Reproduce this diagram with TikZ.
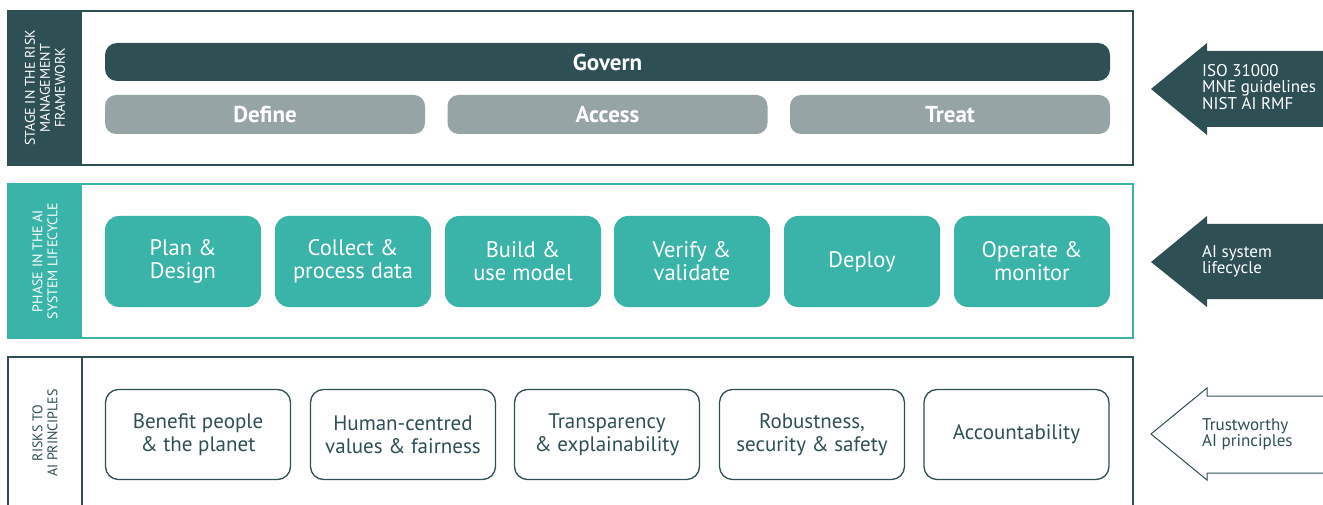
\documentclass[tikz,border=0pt]{standalone}
\usepackage{fontspec}
\setmainfont{PT Sans}
\definecolor{darkslate}{HTML}{2E4F54}
\definecolor{aiteal}{HTML}{3AB3A8}
\definecolor{stagegray}{HTML}{97A4A6}
\begin{document}
\begin{tikzpicture}[x=1pt,y=-1pt,
	govbar/.style={fill=darkslate,rounded corners=12pt,minimum width=1005pt,minimum height=38pt,inner sep=0pt,text=white,font=\bfseries\fontsize{23}{24}\selectfont},
	stagebar/.style={fill=stagegray,rounded corners=11pt,minimum width=320pt,minimum height=39pt,inner sep=0pt,text=white,font=\bfseries\fontsize{23}{24}\selectfont},
	phasebox/.style={fill=aiteal,rounded corners=14pt,minimum width=156pt,minimum height=91pt,inner sep=0pt,text=white,align=center,font=\fontsize{22.5}{23}\selectfont},
	principlebox/.style={draw=darkslate,line width=1.3pt,rounded corners=13pt,minimum width=185pt,minimum height=90pt,inner sep=0pt,text=darkslate,align=center,font=\fontsize{21}{23}\selectfont},
	sidelabel/.style={rotate=90,align=center,font=\fontsize{14}{15}\selectfont},
	arrowtext/.style={anchor=west,align=left,inner sep=0pt,font=\fontsize{17}{16.5}\selectfont},
]
	\useasboundingbox (0,0) rectangle (1323,505);

	% stage in the risk management framework
	\fill[darkslate] (8,11) rectangle (82,165);
	\draw[darkslate,line width=1.3pt] (8,11) rectangle (1133,165);
	\node[sidelabel,text=white] (stagelabel) at (45,88) {STAGE IN THE RISK\\MANAGEMENT\\FRAMEWORK};
	\node[govbar] (govern) at (607.5,62) {Govern};
	\node[stagebar] (define) at (265,114.5) {Define};
	\node[stagebar] (access) at (607.5,114.5) {Access};
	\node[stagebar] (treat) at (950,114.5) {Treat};

	% phase in the AI system lifecycle
	\fill[aiteal] (8,184) rectangle (82,338);
	\draw[aiteal,line width=1.3pt] (8,184) rectangle (1133,338);
	\node[sidelabel,text=white] (phaselabel) at (45,261) {PHASE IN THE AI\\SYSTEM LIFECYCLE};
	\node[phasebox] (plan) at (183,261.5) {Plan \&\\Design};
	\node[phasebox] (collect) at (353,261.5) {Collect \&\\process data};
	\node[phasebox] (build) at (523,261.5) {Build \&\\use model};
	\node[phasebox] (verify) at (692,261.5) {Verify \&\\validate};
	\node[phasebox] (deploy) at (862,261.5) {Deploy};
	\node[phasebox] (operate) at (1032,261.5) {Operate \&\\monitor};

	% risks to AI principles
	\draw[darkslate,line width=1.3pt] (8,506) -- (8,357) -- (1133,357) -- (1133,506);
	\draw[darkslate,line width=1.3pt] (82,357) -- (82,506);
	\node[sidelabel,text=darkslate] (risklabel) at (45,433) {RISKS TO\\AI PRINCIPLES};
	\node[principlebox] (benefit) at (198,434.5) {Benefit people\\\& the planet};
	\node[principlebox] (human) at (403,434.5) {Human-centred\\values \& fairness};
	\node[principlebox] (transparency) at (607,434.5) {Transparency\\\& explainability};
	\node[principlebox] (robust) at (812,434.5) {Robustness,\\security \& safety};
	\node[principlebox] (account) at (1016.5,434.5) {Accountability};

	% arrows
	\fill[darkslate] (1324,51) -- (1207,51) -- (1207,43) -- (1151,89) -- (1207,135) -- (1207,127) -- (1324,127) -- cycle;
	\node[arrowtext,text=white] (isotext) at (1202,87) {ISO 31000\\MNE guidelines\\NIST AI RMF};
	\fill[darkslate] (1324,224) -- (1207,224) -- (1207,216) -- (1151,262) -- (1207,307) -- (1207,299) -- (1324,299) -- cycle;
	\node[arrowtext,text=white] (lifetext) at (1202,261) {AI system\\lifecycle};
	\draw[darkslate,line width=1pt,fill=white] (1324,396) -- (1207,396) -- (1207,388) -- (1151,434) -- (1207,480) -- (1207,473) -- (1324,473);
	\node[arrowtext,text=darkslate] (trusttext) at (1202,434) {Trustworthy\\AI principles};
\end{tikzpicture}
\end{document}
